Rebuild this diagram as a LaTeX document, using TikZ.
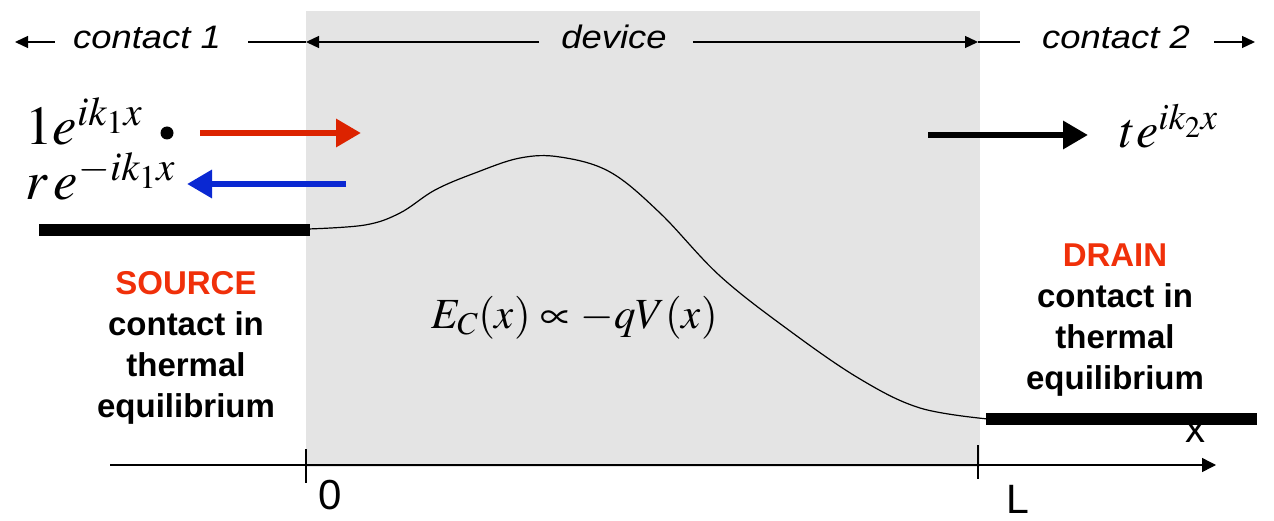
\documentclass[tikz,border=0pt]{standalone}
\usepackage{mathptmx}
\usepackage[no-math]{fontspec}
\setmainfont{Liberation Sans}
\newfontfamily\widesans[FakeStretch=1.12]{Liberation Sans}
\usetikzlibrary{arrows.meta}
\definecolor{band}{HTML}{E4E4E4}
\definecolor{hotred}{HTML}{F0300A}
\definecolor{inred}{HTML}{DC2300}
\definecolor{outblue}{HTML}{0A28D2}

\begin{document}
\begin{tikzpicture}[x=1pt,y=-1pt,
  region/.style={font=\widesans\fontsize{32.5}{40}\selectfont\itshape,inner sep=0pt,text height=14pt,text depth=0pt},
  contactbox/.style={font=\fontsize{33}{41}\selectfont\bfseries,align=center,inner sep=0pt},
  wavefn/.style={font=\fontsize{55}{60}\selectfont,inner sep=0pt},
  ruler/.style={line width=1.3pt,-{Triangle[length=13pt,width=12pt]}},
  wave/.style={line width=6.5pt,-{Triangle[length=25pt,width=27pt]}}]
  \path[use as bounding box] (0,0) rectangle (1274,521);
  % device region
  \fill[band] (306,11) rectangle (980,467);

  % region labels along the top
  \coordinate (farleft) at (15,42);
  \coordinate (devleft) at (306,42);
  \coordinate (devright) at (978,42);
  \coordinate (farright) at (1255,42);
  \node[region] (contactA) at (147,42) {contact 1};
  \node[region] (dev) at (614,42) {device};
  \node[region] (contactB) at (1116,42) {contact 2};
  \draw[ruler] ([xshift=-18pt]contactA.west) -- (farleft);
  \draw[line width=1.3pt] ([xshift=27pt]contactA.east) -- (devleft);
  \draw[ruler] ([xshift=-22pt]dev.west) -- (devleft);
  \draw[ruler] ([xshift=26pt]dev.east) -- (devright);
  \draw[line width=1.3pt] (devright) -- ([xshift=-22pt]contactB.west);
  \draw[ruler] ([xshift=24pt]contactB.east) -- (farright);

  % incident, reflected and transmitted waves
  \node[wavefn,anchor=base west] (inc) at (25,145) {$1e^{ik_1x}$};
  \node[wavefn,anchor=base west] (refl) at (25,200) {$r\,e^{-ik_1x}$};
  \node[wavefn,font=\fontsize{50}{56}\selectfont,anchor=base west] (trans) at (1120,148) {$te^{ik_2x}$};
  \fill (167,133) circle (6.5);
  \coordinate (inA) at (200,133);   \coordinate (inB) at (361,133);
  \coordinate (outA) at (346,184);  \coordinate (outB) at (187,184);
  \coordinate (trA) at (928,135);   \coordinate (trB) at (1088,135);
  \draw[wave,inred] (inA) -- (inB);
  \draw[wave,outblue] (outA) -- (outB);
  \draw[wave] (trA) -- (trB);

  % band edge across the device
  \draw[line width=1.2pt] plot[smooth,tension=0.6] coordinates {(308,229) (365,225) (400,213) (435,190) (475,173) (520,158) (560,157) (610,172) (660,213) (720,276) (790,331) (860,379) (920,408) (988,419)};
  \node[font=\fontsize{43}{50}\selectfont,anchor=base west,inner sep=0pt] (band) at (431,328) {$E_C(x)\propto -qV(x)$};

  % position axis
  \node[font=\fontsize{40}{46}\selectfont,inner sep=0pt] (xlab) at (1195,432) {x};
  \coordinate (axisA) at (110,465);
  \coordinate (axisB) at (1216,465);
  \draw[line width=1.4pt,-{Triangle[length=14pt,width=14pt]}] (axisA) -- (axisB);
  \draw[line width=1.4pt] (306,449) -- (306,483) (978,445) -- (978,479);
  \node[font=\fontsize{42}{48}\selectfont,anchor=base,inner sep=0pt] (zero) at (330,509) {0};
  \node[font=\fontsize{41}{48}\selectfont,anchor=base,inner sep=0pt] (len) at (1018,513) {L};

  % contacts
  \draw[line width=12pt] (39,230) -- (310,230);
  \draw[line width=12pt] (986,419) -- (1257,419);
  \node[contactbox,anchor=north] (source) at (186,271) {{\color{hotred}SOURCE}\\contact in\\thermal\\equilibrium};
  \node[contactbox,anchor=north] (drain) at (1115,244) {{\color{hotred}DRAIN}\\contact in\\thermal\\equilibrium};
\end{tikzpicture}
\end{document}
